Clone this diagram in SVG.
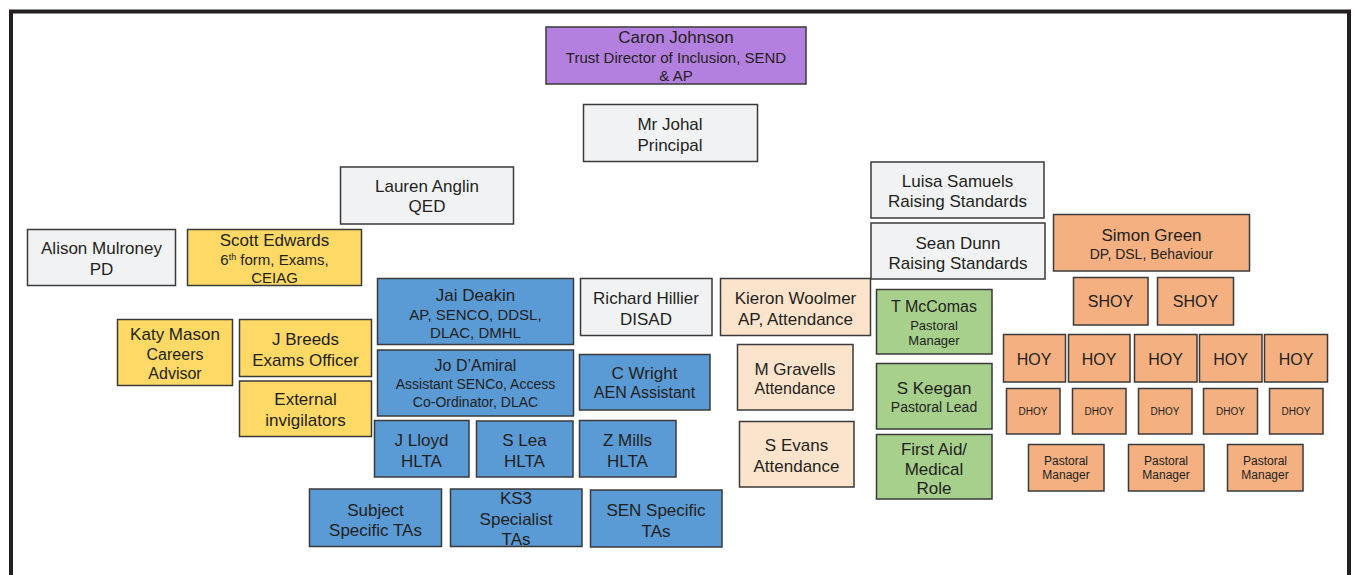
<svg xmlns="http://www.w3.org/2000/svg" width="1354" height="575" viewBox="0 0 1354 575">
<style>
  rect.n { stroke: #3a3a3a; stroke-width: 1.5; }
  .gray { fill: #f1f2f4; }
  .purple { fill: #b480df; }
  .yellow { fill: #fed966; }
  .blue { fill: #5a9ad5; }
  .peach { fill: #fce4cc; }
  .green { fill: #a8d08d; }
  .orange { fill: #f4b081; }
  text { font-family: "Liberation Sans", Arial, sans-serif; fill: #231f20; text-anchor: middle; }
  .t17 { font-size: 17px; }
  .t16 { font-size: 16px; }
  .t15 { font-size: 15px; }
  .t14 { font-size: 14px; }
  .t13 { font-size: 13px; }
  .t12 { font-size: 12px; }
  .t10 { font-size: 10px; }
</style>
<rect x="0" y="0" width="1354" height="575" fill="#ffffff"/>
<path d="M11,575 V11.5 H1349 V575" fill="none" stroke="#231f20" stroke-width="4"/>
<g id="connectors"></g>

<g id="caron"><rect class="n purple" x="546" y="27" width="260" height="57"/>
<text x="676" y="43" class="t17">Caron Johnson</text>
<text x="676" y="62.5" class="t15">Trust Director of Inclusion, SEND</text>
<text x="676" y="81" class="t15">&amp; AP</text></g>

<g id="johal"><rect class="n gray" x="583.5" y="104.5" width="174" height="57"/>
<text x="670" y="130" class="t17">Mr Johal</text>
<text x="670" y="151" class="t17">Principal</text></g>

<g id="lauren"><rect class="n gray" x="340.5" y="167" width="173" height="57"/>
<text x="427" y="192" class="t17">Lauren Anglin</text>
<text x="427" y="212" class="t17">QED</text></g>

<g id="alison"><rect class="n gray" x="27.5" y="229.5" width="148" height="56"/>
<text x="101.5" y="254" class="t17">Alison Mulroney</text>
<text x="101.5" y="274.5" class="t17">PD</text></g>

<g id="scott"><rect class="n yellow" x="187.5" y="229.5" width="174" height="56"/>
<text x="274.5" y="245.5" class="t17">Scott Edwards</text>
<text x="274.5" y="265" class="t15">6<tspan font-size="9" dy="-5">th</tspan><tspan dy="5"> form, Exams,</tspan></text>
<text x="274.5" y="282.5" class="t15">CEIAG</text></g>

<g id="katy"><rect class="n yellow" x="117.5" y="319.5" width="115" height="66"/>
<text x="175" y="340" class="t17">Katy Mason</text>
<text x="175" y="359.5" class="t16">Careers</text>
<text x="175" y="378.5" class="t16">Advisor</text></g>

<g id="jbreeds"><rect class="n yellow" x="239.5" y="319.5" width="132" height="57"/>
<text x="305.5" y="345" class="t17">J Breeds</text>
<text x="305.5" y="366" class="t17">Exams Officer</text></g>

<g id="external"><rect class="n yellow" x="239.5" y="381" width="132" height="55.5"/>
<text x="305.5" y="405" class="t17">External</text>
<text x="305.5" y="425.5" class="t17">invigilators</text></g>

<g id="jai"><rect class="n blue" x="377.5" y="278.5" width="196" height="66"/>
<text x="475.5" y="300.5" class="t17">Jai Deakin</text>
<text x="475.5" y="319.5" class="t15">AP, SENCO, DDSL,</text>
<text x="475.5" y="337.5" class="t15">DLAC, DMHL</text></g>

<g id="jo"><rect class="n blue" x="377.5" y="350" width="196" height="66"/>
<text x="475.5" y="370.5" class="t16">Jo D’Amiral</text>
<text x="475.5" y="389" class="t14">Assistant SENCo, Access</text>
<text x="475.5" y="406.5" class="t14">Co-Ordinator, DLAC</text></g>

<g id="jlloyd"><rect class="n blue" x="374.5" y="420.5" width="94.5" height="56.5"/>
<text x="421.5" y="446" class="t17">J Lloyd</text>
<text x="421.5" y="466.5" class="t17">HLTA</text></g>

<g id="slea"><rect class="n blue" x="476.5" y="421" width="96.5" height="56"/>
<text x="524.5" y="446" class="t17">S Lea</text>
<text x="524.5" y="466.5" class="t17">HLTA</text></g>

<g id="zmills"><rect class="n blue" x="579.5" y="420.5" width="96.5" height="56.5"/>
<text x="627.5" y="446" class="t17">Z Mills</text>
<text x="627.5" y="466.5" class="t17">HLTA</text></g>

<g id="subject"><rect class="n blue" x="309.5" y="489" width="132" height="57.5"/>
<text x="375.5" y="515.5" class="t17">Subject</text>
<text x="375.5" y="536" class="t17">Specific TAs</text></g>

<g id="ks3"><rect class="n blue" x="450.5" y="489" width="131.5" height="57.5"/>
<text x="516" y="503.5" class="t17">KS3</text>
<text x="516" y="524.5" class="t17">Specialist</text>
<text x="516" y="545" class="t17">TAs</text></g>

<g id="sen"><rect class="n blue" x="590.5" y="490" width="131.5" height="57"/>
<text x="656" y="515.5" class="t17">SEN Specific</text>
<text x="656" y="536.5" class="t17">TAs</text></g>

<g id="richard"><rect class="n gray" x="580.5" y="278.5" width="131.5" height="57"/>
<text x="646" y="304" class="t17">Richard Hillier</text>
<text x="646" y="325" class="t17">DISAD</text></g>

<g id="cwright"><rect class="n blue" x="579.5" y="354.5" width="130.5" height="55.5"/>
<text x="644.5" y="379" class="t17">C Wright</text>
<text x="644.5" y="397.5" class="t16">AEN Assistant</text></g>

<g id="kieron"><rect class="n peach" x="720.5" y="278.5" width="150" height="57"/>
<text x="795.5" y="304" class="t17">Kieron Woolmer</text>
<text x="795.5" y="325" class="t17">AP, Attendance</text></g>

<g id="mgravells"><rect class="n peach" x="737.5" y="344.5" width="115.5" height="65.5"/>
<text x="795" y="375" class="t17">M Gravells</text>
<text x="795" y="393.5" class="t16">Attendance</text></g>

<g id="sevans"><rect class="n peach" x="739.5" y="421.5" width="114.5" height="65.5"/>
<text x="796.5" y="451" class="t17">S Evans</text>
<text x="796.5" y="471.5" class="t17">Attendance</text></g>

<g id="tmccomas"><rect class="n green" x="876.5" y="289.5" width="115.5" height="64.5"/>
<text x="934" y="311.5" class="t16">T McComas</text>
<text x="934" y="329.5" class="t13">Pastoral</text>
<text x="934" y="345" class="t13">Manager</text></g>

<g id="skeegan"><rect class="n green" x="876.5" y="363.5" width="115.5" height="65.5"/>
<text x="934" y="394" class="t17">S Keegan</text>
<text x="934" y="411.5" class="t14">Pastoral Lead</text></g>

<g id="firstaid"><rect class="n green" x="876.5" y="434.5" width="115.5" height="64.5"/>
<text x="934" y="454.5" class="t17">First Aid/</text>
<text x="934" y="474.5" class="t17">Medical</text>
<text x="934" y="494" class="t17">Role</text></g>

<g id="luisa"><rect class="n gray" x="871" y="162" width="173" height="56"/>
<text x="957.5" y="186.5" class="t17">Luisa Samuels</text>
<text x="957.5" y="206.5" class="t17">Raising Standards</text></g>

<g id="sean"><rect class="n gray" x="871" y="223" width="174" height="56"/>
<text x="958" y="248.5" class="t17">Sean Dunn</text>
<text x="958" y="268.5" class="t17">Raising Standards</text></g>

<g id="simon"><rect class="n orange" x="1053.5" y="214.5" width="196" height="56.5"/>
<text x="1151.5" y="240.5" class="t17">Simon Green</text>
<text x="1151.5" y="259" class="t14">DP, DSL, Behaviour</text></g>

<g id="shoy1"><rect class="n orange" x="1073.5" y="277.5" width="74.5" height="47.5"/>
<text x="1110.5" y="307" class="t16">SHOY</text></g>
<g id="shoy2"><rect class="n orange" x="1157.5" y="277.5" width="76" height="47.5"/>
<text x="1195.5" y="307" class="t16">SHOY</text></g>

<g id="hoy1"><rect class="n orange" x="1003.5" y="334.5" width="62" height="47.5"/>
<text x="1034" y="365" class="t16">HOY</text></g>
<g id="hoy2"><rect class="n orange" x="1068.5" y="334.5" width="61.5" height="47.5"/>
<text x="1099" y="365" class="t16">HOY</text></g>
<g id="hoy3"><rect class="n orange" x="1134.5" y="334.5" width="62.5" height="47.5"/>
<text x="1165.5" y="365" class="t16">HOY</text></g>
<g id="hoy4"><rect class="n orange" x="1199.5" y="334.5" width="62.5" height="47.5"/>
<text x="1230.5" y="365" class="t16">HOY</text></g>
<g id="hoy5"><rect class="n orange" x="1264.5" y="334.5" width="63" height="47.5"/>
<text x="1296" y="365" class="t16">HOY</text></g>

<g id="dhoy1"><rect class="n orange" x="1006.5" y="388.5" width="53.5" height="45.5"/>
<text x="1033" y="415" class="t10">DHOY</text></g>
<g id="dhoy2"><rect class="n orange" x="1072.5" y="388.5" width="53.5" height="45.5"/>
<text x="1099" y="415" class="t10">DHOY</text></g>
<g id="dhoy3"><rect class="n orange" x="1138.5" y="388.5" width="53.5" height="45.5"/>
<text x="1165" y="415" class="t10">DHOY</text></g>
<g id="dhoy4"><rect class="n orange" x="1203.5" y="388.5" width="54" height="45.5"/>
<text x="1230.5" y="415" class="t10">DHOY</text></g>
<g id="dhoy5"><rect class="n orange" x="1269.5" y="388.5" width="53.5" height="45.5"/>
<text x="1296" y="415" class="t10">DHOY</text></g>

<g id="pm1"><rect class="n orange" x="1028.5" y="444.5" width="75.5" height="46.5"/>
<text x="1066" y="465" class="t12">Pastoral</text>
<text x="1066" y="479" class="t12">Manager</text></g>
<g id="pm2"><rect class="n orange" x="1128.5" y="444.5" width="75.5" height="46.5"/>
<text x="1166" y="465" class="t12">Pastoral</text>
<text x="1166" y="479" class="t12">Manager</text></g>
<g id="pm3"><rect class="n orange" x="1227.5" y="444.5" width="75.5" height="46.5"/>
<text x="1265" y="465" class="t12">Pastoral</text>
<text x="1265" y="479" class="t12">Manager</text></g>
</svg>
